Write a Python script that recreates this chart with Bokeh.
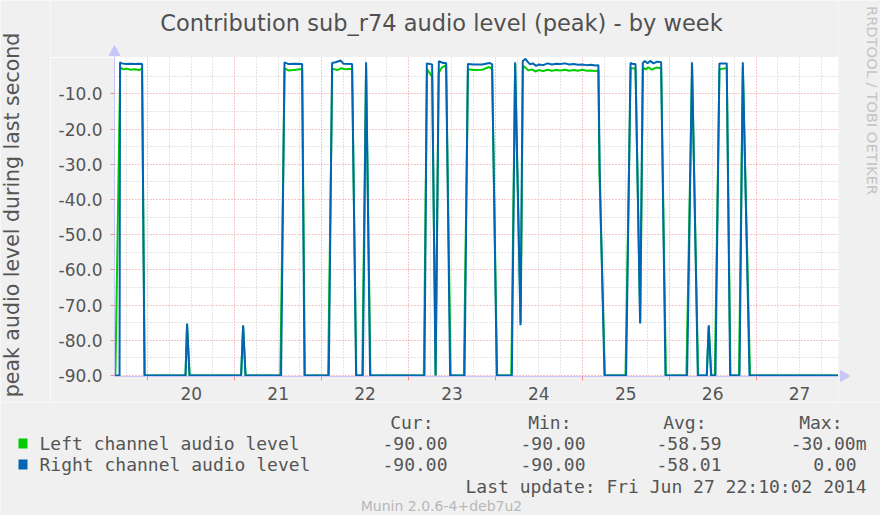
from bokeh.plotting import figure
from bokeh.models import FixedTicker, Grid, Range1d, PrintfTickFormatter
from bokeh.layouts import column, row
from bokeh.core.properties import value
from bokeh.embed import file_html
from bokeh.resources import INLINE
import math

# ---------------- data (x = day of June 2014, y = dB) ----------------
right_x = [19.617, 19.675, 19.681, 19.70, 19.75, 19.80, 19.85, 19.90, 19.935, 19.962,
           20.434, 20.452, 20.480, 21.074, 21.097, 21.124,
           21.534, 21.573, 21.62, 21.70, 21.776, 21.803,
           22.083, 22.121, 22.16, 22.221, 22.25, 22.351, 22.397,
           22.474, 22.512, 22.558,
           23.184, 23.211, 23.272, 23.311, 23.349, 23.40, 23.433, 23.479,
           23.645, 23.683, 23.75, 23.85, 23.931, 23.962, 24.016,
           24.189, 24.227, 24.289, 24.315, 24.346, 24.37, 24.40, 24.43, 24.47, 24.50,
           24.55, 24.60, 24.65, 24.70, 24.75, 24.80, 24.85, 24.90, 24.95, 25.00,
           25.05, 25.10, 25.15, 25.185, 25.20, 25.255,
           25.504, 25.555, 25.585, 25.612, 25.665, 25.696, 25.72, 25.75, 25.78,
           25.82, 25.86, 25.907, 25.957,
           26.206, 26.263, 26.329, 26.432, 26.455, 26.482,
           26.532, 26.578, 26.662, 26.701, 26.809, 26.847, 26.924, 27.948]
right_y = [-90, -90, -1.0, -1.3, -1.5, -1.4, -1.5, -1.4, -1.5, -90,
           -90, -75.2, -90, -90, -75.7, -90,
           -90, -1.0, -1.5, -1.4, -1.5, -90,
           -90, -1.2, -1.0, -0.5, -1.4, -1.5, -90,
           -90, -1.0, -90,
           -90, -1.3, -1.6, -90, -0.7, -1.2, -1.2, -90,
           -90, -1.5, -1.6, -1.6, -1.2, -1.5, -90,
           -90, -1.0, -75.7, -0.6, 0.0, -0.8, -1.6, -1.3, -2.0, -1.6,
           -1.8, -1.3, -1.6, -1.4, -1.5, -1.3, -1.6, -1.5, -1.7, -1.6,
           -1.8, -1.7, -1.9, -1.8, -31.4, -90,
           -90, -1.2, -1.5, -1.5, -75.2, -1.2, -0.6, -1.3, -0.6,
           -1.3, -0.8, -1.0, -90,
           -90, -1.0, -90, -90, -75.7, -90,
           -90, -1.3, -1.3, -90, -90, -1.0, -90, -90]

left_x = [19.617, 19.627, 19.683, 19.72, 19.76, 19.80, 19.85, 19.90, 19.933, 19.965,
          20.434, 20.452, 20.482, 21.074, 21.097, 21.126,
          21.525, 21.575, 21.62, 21.70, 21.776, 21.808,
          22.075, 22.123, 22.18, 22.221, 22.28, 22.351, 22.40,
          22.468, 22.512, 22.562,
          23.176, 23.213, 23.272, 23.313, 23.347, 23.38, 23.433, 23.485,
          23.637, 23.685, 23.75, 23.85, 23.93, 23.962, 24.02,
          24.183, 24.227, 24.291, 24.317, 24.346, 24.38, 24.42, 24.46, 24.50,
          24.55, 24.60, 24.65, 24.70, 24.75, 24.80, 24.85, 24.90, 24.95, 25.00,
          25.05, 25.10, 25.15, 25.185, 25.197, 25.26,
          25.497, 25.557, 25.612, 25.667, 25.698, 25.73, 25.76, 25.80, 25.85,
          25.907, 25.962,
          26.198, 26.263, 26.333, 26.432, 26.455, 26.484,
          26.525, 26.578, 26.662, 26.705, 26.803, 26.847, 26.93, 27.948]
left_y = [-90, -90, -2.5, -3.0, -2.8, -3.1, -3.0, -3.2, -2.8, -90,
          -90, -75.5, -90, -90, -76.0, -90,
          -90, -2.7, -3.3, -3.1, -2.9, -90,
          -90, -2.8, -3.2, -2.7, -3.0, -2.8, -90,
          -90, -2.0, -90,
          -90, -3.0, -5.0, -90, -4.0, -2.6, -1.8, -90,
          -90, -3.0, -3.2, -3.1, -2.3, -3.0, -90,
          -90, -1.5, -75.0, -2.0, -2.5, -3.3, -3.0, -3.6, -3.2,
          -3.5, -3.1, -3.4, -3.2, -3.3, -3.1, -3.4, -3.2, -3.4, -3.1,
          -3.4, -3.3, -3.5, -3.3, -32.3, -90,
          -90, -2.6, -2.8, -75.0, -2.5, -3.0, -2.4, -3.1, -2.5,
          -2.7, -90,
          -90, -2.5, -90, -90, -76.0, -90,
          -90, -3.0, -2.6, -90, -90, -2.3, -90, -90]

day_ticks = [20, 21, 22, 23, 24, 25, 26, 27]
day_labels = ["20", "21", "22", "23", "24", "25", "26", "27"]
y_ticks = [-90, -80, -70, -60, -50, -40, -30, -20, -10]

title_text = "Contribution sub_r74 audio level (peak) - by week"
y_label = "peak audio level during last second"
series_names = ["Left channel audio level", "Right channel audio level"]
series_colors = ["#00CC00", "#0066B3"]
stat_headers = ["Cur:", "Min:", "Avg:", "Max:"]
left_stats = ["-90.00", "-90.00", "-58.59", "-30.00m"]
right_stats = ["-90.00", "-90.00", "-58.01", "0.00"]
last_update = "Last update: Fri Jun 27 22:10:02 2014"
munin_version = "Munin 2.0.6-4+deb7u2"
watermark = "RRDTOOL / TOBI OETIKER"

TXT = "#555555"
BG = "#f0f0f0"
AXIS = "#c8c8f8"
MAJ = "#f08c8c"
SANS = "DejaVu Sans"
MONO = "DejaVu Sans Mono"


def panel(w, h):
    f = figure(width=w, height=h, output_backend="svg", toolbar_location=None,
               x_range=Range1d(0, w), y_range=Range1d(h, 0), min_border=0,
               background_fill_color=BG, border_fill_color=BG,
               outline_line_color=None)
    f.axis.visible = False
    f.grid.visible = False
    return f


# ---------------- main chart ----------------
p = figure(width=788, height=345, output_backend="svg", toolbar_location=None,
           x_range=Range1d(19.617, 27.948), y_range=Range1d(-90.28, 0.37),
           min_border_left=64, min_border_right=0, min_border_top=0,
           min_border_bottom=26, background_fill_color="white",
           border_fill_color=BG, outline_line_color=None)
p.grid.visible = False

minor_x = [d + q for d in range(19, 28) for q in (0.25, 0.5, 0.75)]
minor_y = [-85, -75, -65, -55, -45, -35, -25, -15, -5]
for dim, ticks in ((0, minor_x), (1, minor_y)):
    p.add_layout(Grid(dimension=dim, ticker=FixedTicker(ticks=ticks),
                      grid_line_color="#c8c8c8", grid_line_dash="1 2"))
for dim, ticks in ((0, day_ticks), (1, y_ticks)):
    p.add_layout(Grid(dimension=dim, ticker=FixedTicker(ticks=ticks),
                      grid_line_color=MAJ, grid_line_dash="1 2"))

xa = p.xaxis[0]
xa.ticker = FixedTicker(ticks=[d + 0.5 for d in day_ticks], minor_ticks=day_ticks)
xa.major_label_overrides = {d + 0.5: lab for d, lab in zip(day_ticks, day_labels)}
xa.major_tick_line_color = None
xa.minor_tick_line_color = MAJ
xa.minor_tick_out = 4
xa.minor_tick_in = 0
xa.axis_line_color = AXIS
xa.major_label_standoff = 4
xa.major_label_text_font = SANS
xa.major_label_text_font_size = "17px"
xa.major_label_text_color = TXT

ya = p.yaxis[0]
ya.ticker = FixedTicker(ticks=y_ticks)
ya.formatter = PrintfTickFormatter(format="%.1f")
ya.major_tick_line_color = MAJ
ya.major_tick_out = 4
ya.major_tick_in = 0
ya.minor_tick_line_color = None
ya.axis_line_color = AXIS
ya.major_label_standoff = 8
ya.major_label_text_font = SANS
ya.major_label_text_font_size = "17px"
ya.major_label_text_color = TXT

p.line(left_x, left_y, line_color=series_colors[0], line_width=2)
p.line(right_x, right_y, line_color=series_colors[1], line_width=2)

# ---------------- title strip (above chart) ----------------
top = panel(788, 57)
top.text(x=[391], y=[22], text=[title_text], text_font=value(SANS),
         text_font_size=value("22.5px"), text_color="#505050",
         text_align="center", text_baseline="middle")
top.patch(x=[64, 58.5, 69.5], y=[45, 55, 55], color=AXIS)
top.segment(x0=[64], y0=[54], x1=[64], y1=[57], line_color=AXIS, line_width=1)

# ---------------- left strip (axis title) ----------------
left = panel(50, 402)
left.text(x=[11], y=[214.5], text=[y_label], text_font=value(SANS),
          text_font_size=value("20.5px"), text_color=TXT,
          text_align="center", text_baseline="middle", angle=math.pi / 2)

# ---------------- right strip ----------------
side = panel(42, 402)
side.text(x=[34], y=[100], text=[watermark], text_font=value(SANS),
          text_font_size=value("14.7px"), text_color="#c4c4c4",
          text_align="center", text_baseline="middle", angle=-math.pi / 2)
side.patch(x=[2, 11.5, 2], y=[370, 375.5, 381], color=AXIS)
side.segment(x0=[0], y0=[375.5], x1=[2], y1=[375.5], line_color=AXIS, line_width=1)

# ---------------- legend strip (below) ----------------
bot = panel(880, 113)
header_right = [433, 571, 706, 842]
value_right = [447, 585, 721, 856]
row_y = [41, 62]
bot.text(x=header_right, y=[20] * 4, text=stat_headers, text_font=value(MONO),
         text_font_size=value("18px"), text_color=TXT, text_align="right",
         text_baseline="middle")
for yy, name, col, stats in zip(row_y, series_names, series_colors,
                                [left_stats, right_stats]):
    bot.rect(x=[22.5], y=[yy], width=9, height=10, fill_color=col, line_color=None)
    bot.text(x=[39], y=[yy], text=[name], text_font=value(MONO),
             text_font_size=value("18px"), text_color=TXT, text_align="left",
             text_baseline="middle")
    xs = [xr + (10 if s.endswith("m") else 0) for s, xr in zip(stats, value_right)]
    bot.text(x=xs, y=[yy] * 4, text=stats, text_font=value(MONO),
             text_font_size=value("18px"), text_color=TXT, text_align="right",
             text_baseline="middle")
bot.text(x=[866], y=[84], text=[last_update], text_font=value(MONO),
         text_font_size=value("18px"), text_color=TXT, text_align="right",
         text_baseline="middle")
bot.text(x=[441], y=[103.5], text=[munin_version], text_font=value(SANS),
         text_font_size=value("14px"), text_color="#b8b8b8", text_align="center",
         text_baseline="middle")

layout = column(row(left, column(row(top), p), side), bot)
open("out.html", "w").write(file_html(layout, INLINE))
